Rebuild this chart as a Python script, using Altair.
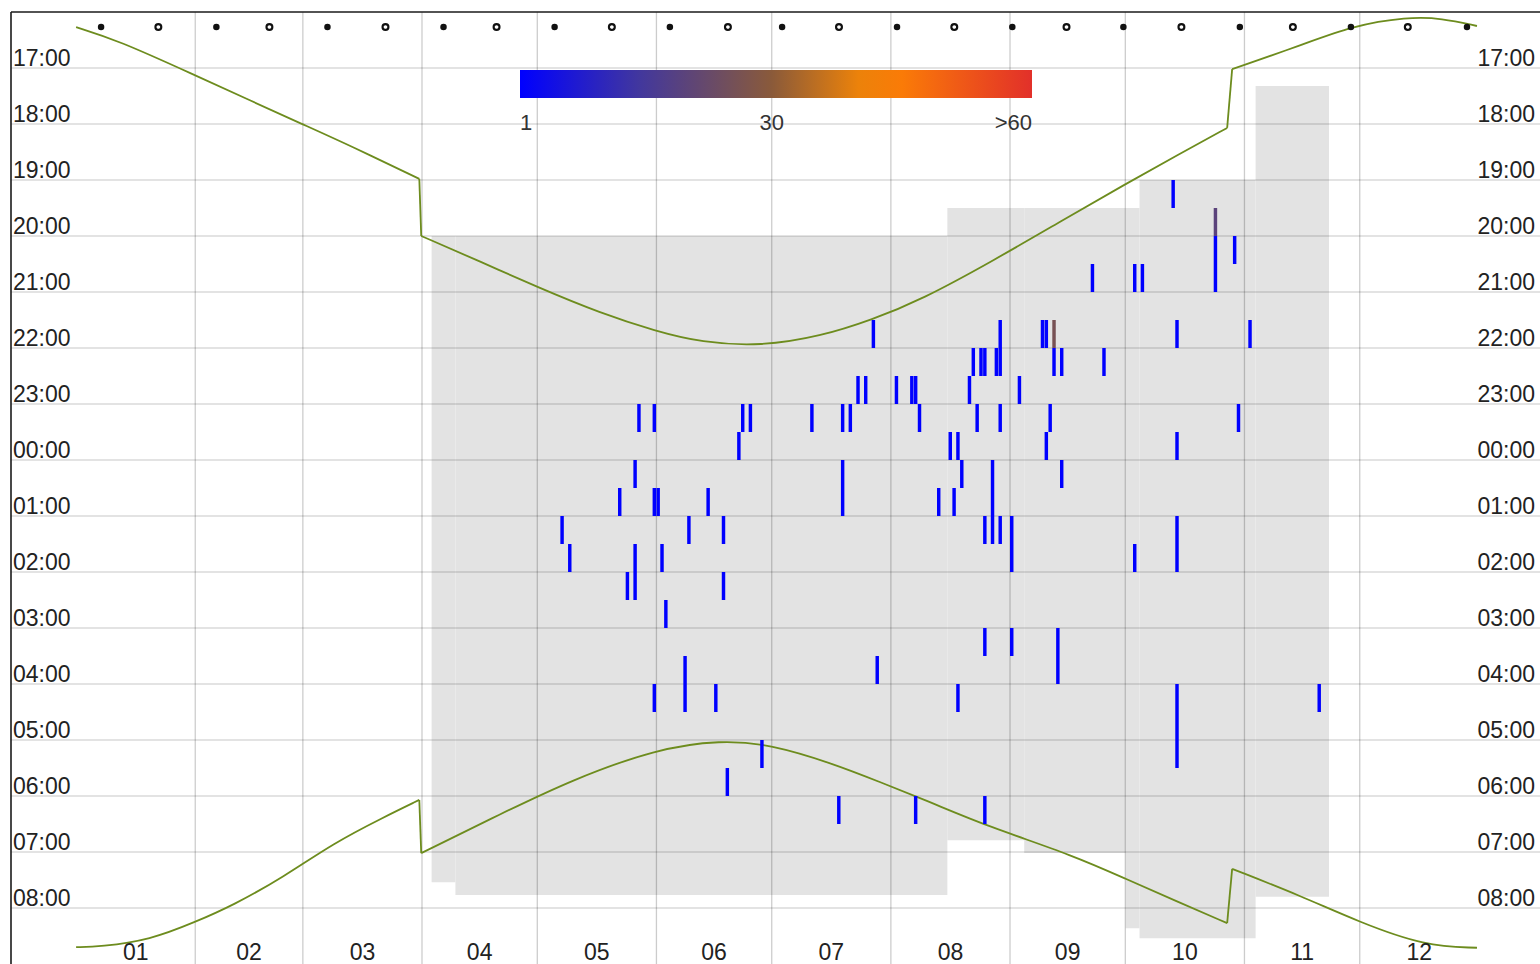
import altair as alt
import pandas as pd

# ---- calendar -------------------------------------------------------------
# first day (0-based day of year) of each month, with the end of the year last
MONTH_STARTS = [0, 31, 59, 90, 120, 151, 181, 212, 243, 273, 304, 334, 365]
MONTH_LABELS = ["01", "02", "03", "04", "05", "06", "07", "08", "09", "10", "11", "12"]

# night hours: times after midnight continue from 24 (25 = 01:00)
HOUR_TICKS = [17, 18, 19, 20, 21, 22, 23, 24, 25, 26, 27, 28, 29, 30, 31, 32]

# moon phases (day of year)
NEW_MOON_DAYS = [6.5, 36.5, 65.4, 95.6, 124.5, 154.5, 183.7, 213.6, 243.6,
                 272.5, 302.8, 331.7, 361.9]
FULL_MOON_DAYS = [21.4, 50.3, 80.5, 109.4, 139.4, 169.6, 198.5, 228.5, 257.7,
                  287.6, 316.6, 346.5]

# sunset / sunrise in local clock time (jumps at the DST changes)
SUNSET_DAY = [0, 10.7, 31.0, 45.3, 59.1, 71.4, 89.3, 89.8, 105.3, 119.9, 136.5,
              150.9, 162.6, 178.2, 193.8, 206.9, 219.9, 238.9, 256.4, 273.1,
              287.0, 299.5, 300.8, 318.9, 332.0, 346.3, 355.4, 364.5]
SUNSET_HOUR = [16.27, 16.50, 17.13, 17.58, 18.01, 18.39, 18.98, 20.00, 20.46,
               20.91, 21.38, 21.70, 21.90, 21.97, 21.79, 21.50, 21.14, 20.43,
               19.73, 19.07, 18.54, 18.07, 17.02, 16.59, 16.25, 16.09, 16.11,
               16.25]
SUNRISE_DAY = [0, 6.25, 19.3, 31.0, 40.9, 53.9, 67.0, 80.0, 89.3, 89.8, 110.5,
               129.0, 150.9, 167.8, 180.8, 196.5, 209.2, 223.3, 237.1, 259.8,
               273.1, 286.3, 299.5, 300.8, 318.9, 333.8, 351.0, 364.5]
SUNRISE_HOUR = [32.70, 32.69, 32.57, 32.25, 31.95, 31.45, 30.84, 30.38, 30.07,
                31.02, 30.32, 29.71, 29.16, 29.00, 29.08, 29.41, 29.75, 30.14,
                30.54, 31.07, 31.48, 31.88, 32.27, 31.30, 31.79, 32.25, 32.68,
                32.71]

# recording periods: first/last day and nightly start/stop
REC_START = [92.5, 98.7, 226.7, 246.7, 273.1, 276.7, 306.9]
REC_END = [98.7, 226.7, 246.7, 273.1, 276.7, 306.9, 326.0]
REC_FROM = [20.0, 20.0, 19.5, 19.5, 19.5, 19.0, 17.32]
REC_TO = [31.54, 31.77, 30.79, 31.02, 32.36, 32.54, 31.80]

# detections: day, first half-hour slot, number of consecutive slots, calls per slot
DET_DAY = [285, 296, 296, 301, 264, 275, 277, 207, 240, 251, 252, 254, 286, 305,
           233, 235, 236, 239, 240, 254, 256, 267, 203, 205, 213, 217, 218, 232,
           245, 146, 150, 173, 175, 191, 199, 201, 219, 234, 240, 253, 302, 172,
           227, 229, 252, 286, 145, 199, 230, 238, 256, 141, 150, 151, 164, 224,
           228, 126, 159, 168, 236, 240, 243, 286, 128, 145, 152, 275, 143, 145,
           168, 153, 236, 243, 255, 208, 158, 150, 166, 229, 323, 286, 178, 169,
           198, 218, 236]
DET_START = [19.0, 19.5, 20.0, 20.0, 20.5, 20.5, 20.5, 21.5, 21.5, 21.5, 21.5,
             21.5, 21.5, 21.5, 22.0, 22.0, 22.0, 22.0, 22.0, 22.0, 22.0, 22.0,
             22.5, 22.5, 22.5, 22.5, 22.5, 22.5, 22.5, 23.0, 23.0, 23.0, 23.0,
             23.0, 23.0, 23.0, 23.0, 23.0, 23.0, 23.0, 23.0, 23.5, 23.5, 23.5,
             23.5, 23.5, 24.0, 24.0, 24.0, 24.0, 24.0, 24.5, 24.5, 24.5, 24.5,
             24.5, 24.5, 25.0, 25.0, 25.0, 25.0, 25.0, 25.0, 25.0, 25.5, 25.5,
             25.5, 25.5, 26.0, 26.0, 26.0, 26.5, 27.0, 27.0, 27.0, 27.5, 27.5,
             28.0, 28.0, 28.0, 28.0, 28.0, 29.0, 29.5, 30.0, 30.0, 30.0]
DET_SLOTS = [1, 1, 2, 1, 1, 1, 1, 1, 1, 1, 1, 1, 1, 1, 1, 1, 1, 1, 1, 1, 1, 1,
             1, 1, 1, 1, 1, 1, 1, 1, 1, 1, 1, 1, 1, 1, 1, 1, 1, 1, 1, 1, 1, 1,
             1, 1, 1, 2, 1, 3, 1, 1, 1, 1, 1, 1, 1, 1, 1, 1, 1, 1, 2, 2, 1, 1,
             1, 1, 1, 1, 1, 1, 1, 1, 2, 1, 2, 1, 1, 1, 1, 3, 1, 1, 1, 1, 1]
DET_COUNT = [1, 20, 1, 1, 1, 1, 1, 1, 1, 1, 1, 26, 1, 1, 1, 1, 1, 1, 1, 1, 1, 1,
             1, 1, 1, 1, 1, 1, 1, 1, 1, 1, 1, 1, 1, 1, 1, 1, 1, 1, 1, 1, 1, 1,
             1, 1, 1, 1, 1, 1, 1, 1, 1, 1, 1, 1, 1, 1, 1, 1, 1, 1, 1, 1, 1, 1,
             1, 1, 1, 1, 1, 1, 1, 1, 1, 1, 1, 1, 1, 1, 1, 1, 1, 1, 1, 1, 1]

# colour bar
COUNT_STOPS = [1, 15, 30, 42, 60]
COUNT_COLORS = ["#0000ff", "#43389c", "#8a5a3a", "#ff8a00", "#e2302a"]
COUNT_LABELS = [1, 30, 60]

# ---- tables ---------------------------------------------------------------
FONT = "Liberation Sans"
W, H = 1529, 952
SUN_COLOR = "#6d8c1e"

months = pd.DataFrame({
    "label": MONTH_LABELS,
    "mid": [(a + b) / 2 for a, b in zip(MONTH_STARTS[:-1], MONTH_STARTS[1:])],
})
month_edges = pd.DataFrame({"day": MONTH_STARTS[1:-1]})
hours = pd.DataFrame({
    "hour": HOUR_TICKS,
    "label": [f"{h % 24:02d}:00" for h in HOUR_TICKS],
})
moons = pd.DataFrame({
    "day": NEW_MOON_DAYS + FULL_MOON_DAYS,
    "phase": ["new"] * len(NEW_MOON_DAYS) + ["full"] * len(FULL_MOON_DAYS),
})


def split_curve(name, days, hrs):
    """Smooth pieces between clock changes, plus the straight jump segments."""
    pieces, jumps = [], []
    seg = 0
    for i, (d, h) in enumerate(zip(days, hrs)):
        if i > 0 and d - days[i - 1] < 2.0:
            jumps += [
                {"day": days[i - 1], "hour": hrs[i - 1], "grp": f"{name}-j{seg}", "seq": 0},
                {"day": d, "hour": h, "grp": f"{name}-j{seg}", "seq": 1},
            ]
            seg += 1
        pieces.append({"day": d, "hour": h, "grp": f"{name}-{seg}", "seq": i})
    return pieces, jumps


p1, j1 = split_curve("sunset", SUNSET_DAY, SUNSET_HOUR)
p2, j2 = split_curve("sunrise", SUNRISE_DAY, SUNRISE_HOUR)
sun_pieces = pd.DataFrame(p1 + p2)
sun_jumps = pd.DataFrame(j1 + j2)

recording = pd.DataFrame({"start": REC_START, "end": REC_END,
                          "t0": REC_FROM, "t1": REC_TO})

rows = []
for d, s, n, c in zip(DET_DAY, DET_START, DET_SLOTS, DET_COUNT):
    for k in range(n):
        rows.append({"day": d, "day_end": d + 0.9,
                     "t0": s + 0.5 * k, "t1": s + 0.5 * (k + 1), "count": c})
detections = pd.DataFrame(rows)

# ---- scales ---------------------------------------------------------------
xs = alt.Scale(domain=[-16.94, 380.9], nice=False, zero=False)
ys = alt.Scale(domain=[16, 33], reverse=True, nice=False, zero=False)

rec_layer = alt.Chart(recording).mark_rect(color="#e3e3e3").encode(
    x=alt.X("start:Q", scale=xs, axis=None), x2="end:Q",
    y=alt.Y("t0:Q", scale=ys, axis=None), y2="t1:Q",
)

hgrid = alt.Chart(hours).mark_rule(color="#000000", opacity=0.11, strokeWidth=2).encode(
    y=alt.Y("hour:Q", scale=ys, axis=None),
)
vgrid = alt.Chart(month_edges).mark_rule(color="#000000", opacity=0.2, strokeWidth=1.3).encode(
    x=alt.X("day:Q", scale=xs, axis=None),
)

sun_smooth = alt.Chart(sun_pieces).mark_line(
    color=SUN_COLOR, strokeWidth=1.8, interpolate="basis"
).encode(
    x=alt.X("day:Q", scale=xs, axis=None),
    y=alt.Y("hour:Q", scale=ys, axis=None),
    detail="grp:N",
    order="seq:Q",
)
sun_steps = alt.Chart(sun_jumps).mark_line(color=SUN_COLOR, strokeWidth=1.8).encode(
    x=alt.X("day:Q", scale=xs, axis=None),
    y=alt.Y("hour:Q", scale=ys, axis=None),
    detail="grp:N",
    order="seq:Q",
)

det_layer = alt.Chart(detections).mark_rect().encode(
    x=alt.X("day:Q", scale=xs, axis=None), x2="day_end:Q",
    y=alt.Y("t0:Q", scale=ys, axis=None), y2="t1:Q",
    color=alt.Color(
        "count:Q",
        title=None,
        scale=alt.Scale(domain=COUNT_STOPS, range=COUNT_COLORS, clamp=True,
                        interpolate="rgb"),
        legend=alt.Legend(
            orient="none", legendX=509, legendY=58, direction="horizontal",
            gradientLength=512, gradientThickness=28, gradientStrokeWidth=0,
            values=COUNT_LABELS,
            labelExpr="datum.value >= 60 ? '>60' : datum.label",
            labelFont=FONT, labelFontSize=22, labelColor="#333333",
            labelOffset=15,
        ),
    ),
)

new_moon = alt.Chart(moons).transform_filter("datum.phase == 'new'").mark_point(
    filled=True, color="#111111", size=42, opacity=1
).encode(x=alt.X("day:Q", scale=xs, axis=None), y=alt.value(15))
full_moon = alt.Chart(moons).transform_filter("datum.phase == 'full'").mark_point(
    filled=False, color="#111111", size=34, strokeWidth=2.2, opacity=1
).encode(x=alt.X("day:Q", scale=xs, axis=None), y=alt.value(15))

left_labels = alt.Chart(hours).mark_text(
    align="left", baseline="alphabetic", dy=-2, font=FONT, fontSize=23, color="#222222"
).encode(x=alt.value(2), y=alt.Y("hour:Q", scale=ys, axis=None), text="label:N")
right_labels = alt.Chart(hours).mark_text(
    align="right", baseline="alphabetic", dy=-2, font=FONT, fontSize=23, color="#222222"
).encode(x=alt.value(W - 5), y=alt.Y("hour:Q", scale=ys, axis=None), text="label:N")

month_text = alt.Chart(months).mark_text(
    align="center", baseline="alphabetic", font=FONT, fontSize=23, color="#222222"
).encode(x=alt.X("mid:Q", scale=xs, axis=None), y=alt.value(948), text="label:N")

frame = pd.DataFrame({"edge": [0]})
left_border = alt.Chart(frame).mark_rule(color="#1a1a1a", strokeWidth=1.6).encode(x=alt.value(0))
top_border = alt.Chart(frame).mark_rule(color="#1a1a1a", strokeWidth=1.6).encode(y=alt.value(0))

chart = alt.layer(
    rec_layer, hgrid, vgrid, sun_smooth, sun_steps, det_layer, new_moon, full_moon,
    left_labels, right_labels, month_text, left_border, top_border,
).properties(
    width=W, height=H,
    autosize=alt.AutoSizeParams(type="none"),
    padding={"left": 11, "top": 12, "right": 0, "bottom": 0},
    background="#ffffff",
).configure_view(strokeWidth=0)

chart.save("out.html", embed_options={"renderer": "svg", "actions": False})
